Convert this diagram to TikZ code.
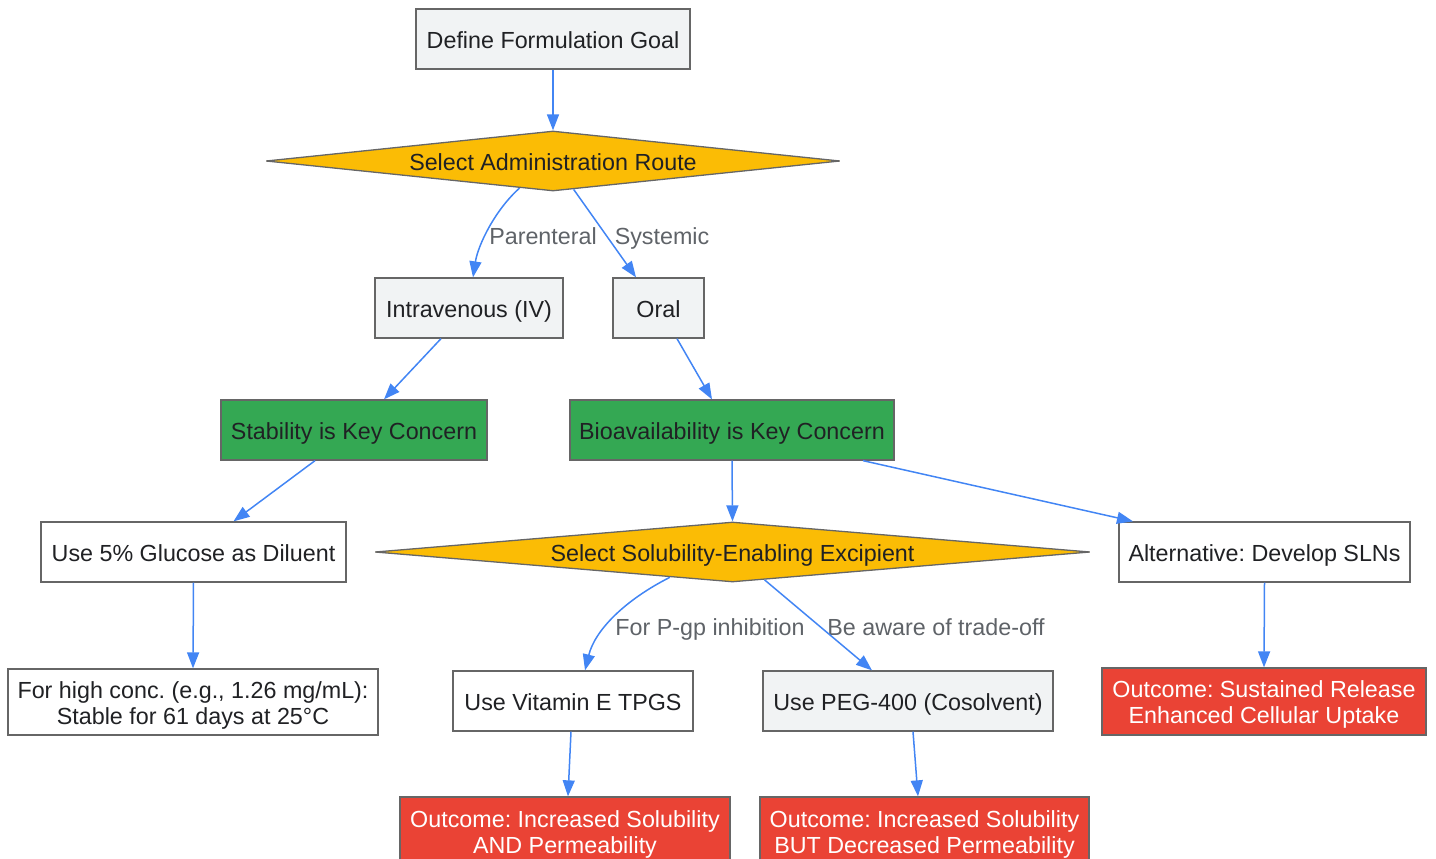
\documentclass[tikz,border=0pt]{standalone}
\usepackage{fontspec}
\setmainfont{Liberation Sans}
\usetikzlibrary{shapes.geometric,arrows.meta,calc}
\frenchspacing
\definecolor{bordergray}{HTML}{666666}
\definecolor{lightfill}{HTML}{F1F3F4}
\definecolor{gyellow}{HTML}{FBBC05}
\definecolor{ggreen}{HTML}{34A853}
\definecolor{gred}{HTML}{EA4335}
\definecolor{gblue}{HTML}{4285F4}
\definecolor{txtdark}{HTML}{202124}
\definecolor{lblgray}{HTML}{5F6368}
\newcommand\twoln[2]{\rule{0pt}{20pt}\smash{#1}\\\smash{#2}\rule[-1.4pt]{0pt}{1.4pt}}
\tikzset{
  base/.style={draw=bordergray, line width=1.3pt, text=txtdark, inner sep=0pt, align=center,
    font=\fontsize{23.3}{26}\selectfont},
  oneline/.style={text height=20pt, text depth=1.4pt},
  graybox/.style={base, rectangle, fill=lightfill},
  whitebox/.style={base, rectangle, fill=white},
  greenbox/.style={base, rectangle, fill=ggreen},
  redbox/.style={base, rectangle, fill=gred, text=white},
  decision/.style={base, oneline, diamond, fill=gyellow, line join=bevel},
  edgelbl/.style={oneline, text=lblgray, inner sep=0pt, font=\fontsize{23.3}{26}\selectfont},
  conn/.style={draw=gblue, line width=1.5pt, -{Triangle[length=16pt,width=12pt]}},
}
\begin{document}
\begin{tikzpicture}[x=1pt,y=-1pt]
\useasboundingbox (0,0) rectangle (1436,859);

\node[graybox, oneline, minimum width=274, minimum height=60] (goal) at (553,39) {Define Formulation Goal};
\node[decision, aspect=9.57, minimum width=574, minimum height=60] (route) at (553,161) {Select Administration Route};
\node[graybox, oneline, minimum width=188, minimum height=60] (iv) at (469,308) {Intravenous (IV)};
\node[graybox, oneline, minimum width=91, minimum height=60] (oral) at (658.5,308) {Oral};
\node[greenbox, oneline, minimum width=266, minimum height=60] (stab) at (354,430) {Stability is Key Concern};
\node[greenbox, oneline, minimum width=324, minimum height=60] (bio) at (732,430) {Bioavailability is Key Concern};
\node[whitebox, oneline, minimum width=305, minimum height=60] (glu) at (193.5,552) {Use 5\% Glucose as Diluent};
\node[decision, aspect=11.92, minimum width=715, minimum height=60] (exc) at (732.5,552) {Select Solubility-Enabling Excipient};
\node[whitebox, oneline, minimum width=291, minimum height=60] (sln) at (1264.5,552) {Alternative: Develop SLNs};
\node[whitebox, minimum width=370, minimum height=66] (hc) at (193,702) {\twoln{For high conc. (e.g., 1.26 mg/mL):}{Stable for 61 days at 25°C}};
\node[whitebox, oneline, minimum width=240, minimum height=60] (tpgs) at (573,701) {Use Vitamin E TPGS};
\node[graybox, oneline, minimum width=290, minimum height=60] (peg) at (908,701) {Use PEG-400 (Cosolvent)};
\node[redbox, minimum width=324, minimum height=67] (slnout) at (1264,701.5) {\twoln{Outcome: Sustained Release}{Enhanced Cellular Uptake}};
\node[redbox, minimum width=330, minimum height=68] (o1) at (565,831) {\twoln{Outcome: Increased Solubility}{AND Permeability}};
\node[redbox, minimum width=329, minimum height=68] (o2) at (924.5,831) {\twoln{Outcome: Increased Solubility}{BUT Decreased Permeability}};

\node[edgelbl] (lpar) at (543,235) {Parenteral};
\node[edgelbl] (lsys) at (662,235) {Systemic};
\node[edgelbl] (lpgp) at (710,626) {For P-gp inhibition};
\node[edgelbl] (ltrade) at (936,626) {Be aware of trade-off};

\draw[conn] (goal.south) -- (route.north);
\draw[conn] (route.-141.3) .. controls (495,210) and (478,245) .. ($(iv.north)+(4,0)$);
\draw[conn] (route.-54.5) -- ($(oral.north)+(-22.5,0)$);
\draw[conn] ($(iv.south)+(-28,0)$) -- ($(stab.north)+(30,0)$);
\draw[conn] ($(oral.south)+(18.5,0)$) -- ($(bio.north)+(-20,0)$);
\draw[conn] ($(stab.south)+(-39,0)$) -- ($(glu.north)+(40,0)$);
\draw[conn] (bio.south) -- (exc.north);
\draw[conn] ($(bio.south)+(131,0)$) -- ($(sln.north)+(-131.5,0)$);
\draw[conn] (glu.south) -- (hc.north);
\draw[conn] (exc.-158) .. controls (625,600) and (595,630) .. ($(tpgs.north)+(12,0)$);
\draw[conn] (exc.-41.6) -- ($(peg.north)+(-36,0)$);
\draw[conn] ($(tpgs.south)+(-2,0)$) -- ($(o1.north)+(3,0)$);
\draw[conn] ($(peg.south)+(5,0)$) -- ($(o2.north)+(-6.5,0)$);
\draw[conn] (sln.south) -- (slnout.north);
\end{tikzpicture}
\end{document}
